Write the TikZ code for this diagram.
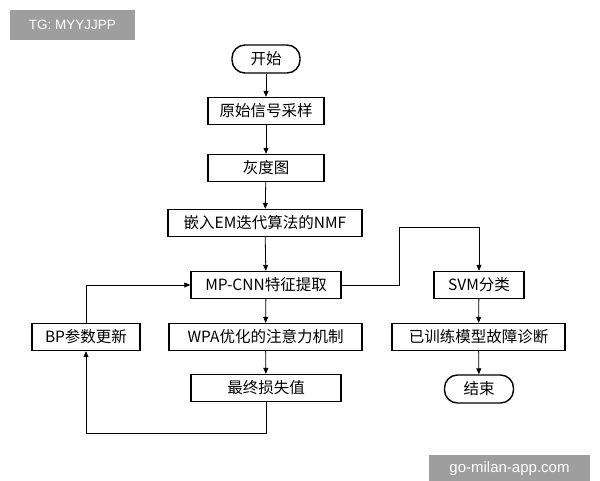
\documentclass[tikz,border=0pt]{standalone}
\usepackage{fontspec}
\setmainfont{Noto Sans CJK SC}
\newfontfamily\wm{Liberation Sans}
\usetikzlibrary{arrows.meta}
\begin{document}
\begin{tikzpicture}[x=1pt,y=-1pt,
 box/.style={draw,line width=1.4pt,minimum height=27pt,inner sep=0pt,font=\fontsize{15.5}{15.5}\selectfont},
 term/.style={box,rounded corners=13pt,minimum height=28pt},
 arr/.style={line width=0.8pt,-{Triangle[length=6pt,width=5pt]}},
 ln/.style={line width=0.8pt}]
\useasboundingbox (0,0) rectangle (600,480);
\fill[white] (0,0) rectangle (600,480);
\node[fill=black!38,text=white,minimum width=125pt,minimum height=30pt,inner sep=0pt,font=\wm\fontsize{13.5}{13.5}\selectfont] (tg) at (72.5,25) {TG: MYYJJPP};
\node[fill=black!38,text=white,minimum width=161pt,minimum height=28pt,inner sep=0pt,font=\wm\fontsize{15}{15}\selectfont] (gm) at (509.5,469) {go-milan-app.com};
\node[term,minimum width=68pt] (s) at (266,59) {开始};
\node[box,minimum width=116pt] (a) at (266,111) {原始信号采样};
\node[box,minimum width=116pt] (b) at (266,168) {灰度图};
\node[box,minimum width=194pt] (c) at (265,223) {嵌入EM迭代算法的NMF};
\node[box,minimum width=150pt] (d) at (266,285) {MP-CNN特征提取};
\node[box,minimum width=193pt] (e) at (265.5,337) {WPA优化的注意力机制};
\node[box,minimum width=150pt] (f) at (266,388) {最终损失值};
\node[box,minimum width=108pt] (bp) at (86,337) {BP参数更新};
\node[box,minimum width=90pt] (svm) at (479,285) {SVM分类};
\node[box,minimum width=173pt] (g) at (478.5,337) {已训练模型故障诊断};
\node[term,minimum width=69pt] (end) at (479,389) {结束};
\coordinate (r1) at (399,285);
\coordinate (r2) at (399,227);
\coordinate (r3) at (479,227);
\coordinate (l1) at (266,433);
\coordinate (l2) at (86,433);
\coordinate (u1) at (86,285);
\draw[arr] (s) -- (a);
\draw[arr] (a) -- (b);
\draw[arr] (b) -- (c);
\draw[arr] (c) -- (d);
\draw[arr] (d) -- (e);
\draw[arr] (e) -- (f);
\draw[arr] (svm) -- (g);
\draw[arr] (g) -- (end);
\draw[arr] (d.east) -- (r1) -- (r2) -- (r3) -- (svm.north);
\draw[arr] (f.south) -- (l1) -- (l2) -- (bp.south);
\draw[arr] (bp.north) -- (u1) -- (d.west);
\end{tikzpicture}
\end{document}
